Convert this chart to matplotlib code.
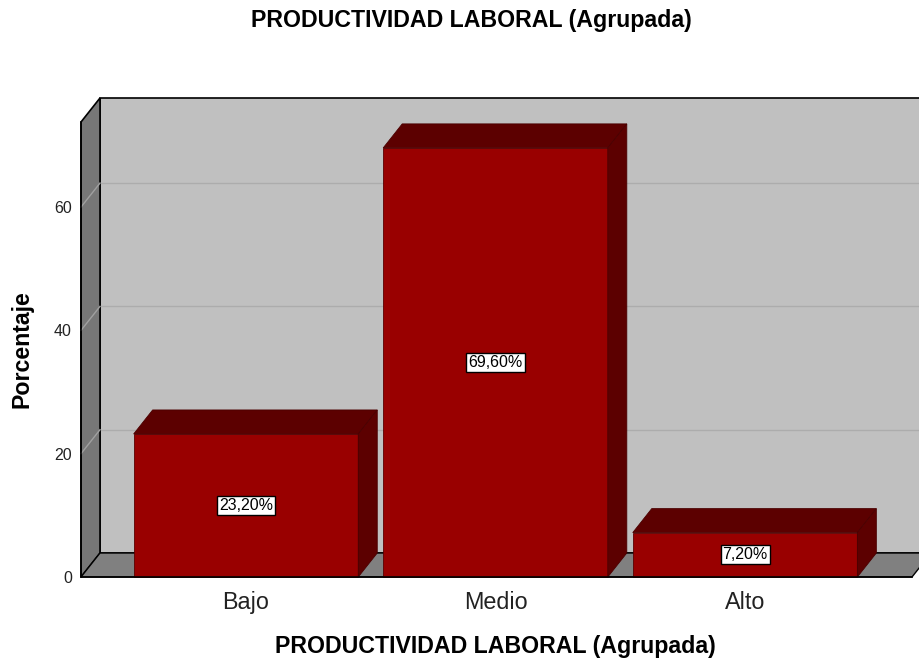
# Gráfico de barras 3D (estilo SPSS): productividad laboral agrupada
import matplotlib.pyplot as plt
from matplotlib.patches import Polygon

plt.rcParams['font.family'] = ['Liberation Sans', 'DejaVu Sans']

categorias = ['Bajo', 'Medio', 'Alto']
porcentajes = [23.2, 69.6, 7.2]
ticks_y = [0, 20, 40, 60]
titulo = 'PRODUCTIVIDAD LABORAL (Agrupada)'

fig = plt.figure(figsize=(9.2, 6.62), dpi=100)
W, H = 920, 662
ax = fig.add_axes([81 / W, 85 / H, 831 / W, 455 / H])

x0, x1 = -0.661, 2.669
y0, y1 = 0, 73.8
ax.set_xlim(x0, x1)
ax.set_ylim(y0, y1)

# profundidad del efecto 3D, en unidades de datos (19 px a la derecha, 24 px arriba)
px_x = 831 / (x1 - x0)
px_y = 455 / (y1 - y0)
ddx = 19 / px_x
ddy = 24 / px_y

def poly(pts, color, z, ec='none', lw=0):
    p = Polygon(pts, closed=True, facecolor=color, edgecolor=ec, linewidth=lw,
                zorder=z, clip_on=False)
    ax.add_patch(p)

# paredes y suelo
poly([(x0 + ddx, ddy), (x1 + ddx, ddy), (x1 + ddx, y1 + ddy), (x0 + ddx, y1 + ddy)],
     '#c0c0c0', 0.5, ec='black', lw=1.2)
poly([(x0, 0), (x0 + ddx, ddy), (x0 + ddx, y1 + ddy), (x0, y1)],
     '#777777', 0.6, ec='black', lw=1.2)
poly([(x0, 0), (x1, 0), (x1 + ddx, ddy), (x0 + ddx, ddy)],
     '#808080', 0.6, ec='black', lw=1.0)

# líneas de cuadrícula
for v in ticks_y[1:]:
    ax.plot([x0 + ddx, x1 + ddx], [v + ddy, v + ddy], color='#acacac', lw=1,
            zorder=0.55, clip_on=False)
    ax.plot([x0, x0 + ddx], [v, v + ddy], color='#a0a0a0', lw=1,
            zorder=0.65, clip_on=False)

# barras
ancho = 0.9
for i, v in enumerate(porcentajes):
    a, b = i - ancho / 2, i + ancho / 2
    poly([(a, 0), (b, 0), (b, v), (a, v)], '#990000', 2, ec='#5a0000', lw=0.6)
    poly([(a, v), (b, v), (b + ddx, v + ddy), (a + ddx, v + ddy)], '#5c0000', 2,
         ec='#4a0000', lw=0.6)
    poly([(b, 0), (b + ddx, ddy), (b + ddx, v + ddy), (b, v)], '#5c0000', 2,
         ec='#4a0000', lw=0.6)
    etiqueta = f'{v:.2f}'.replace('.', ',') + '%'
    ax.text(i, v / 2, etiqueta, ha='center', va='center', fontsize=11.5, zorder=5,
            bbox=dict(boxstyle='square,pad=0.12', facecolor='white',
                      edgecolor='black', linewidth=1))

ax.set_facecolor('none')
for s in ['top', 'right']:
    ax.spines[s].set_visible(False)
for s in ['left', 'bottom']:
    ax.spines[s].set_color('black')
    ax.spines[s].set_linewidth(1.2)
    ax.spines[s].set_zorder(3)

ax.set_xticks(range(len(categorias)))
ax.set_xticklabels(categorias, fontsize=16.8, color='#222222')
ax.set_yticks(ticks_y)
ax.set_yticklabels([str(t) for t in ticks_y], fontsize=11.5, color='#222222')
ax.tick_params(axis='x', length=0, pad=10)
ax.tick_params(axis='y', length=0, pad=6.5)

fig.text(471.5 / W, 1 - 20 / H, titulo, ha='center', va='center',
         fontsize=16.7, fontweight='bold')
fig.text(495 / W, 1 - 647 / H, titulo, ha='center', va='center',
         fontsize=16.7, fontweight='bold')
fig.text(22 / W, 1 - 349 / H, 'Porcentaje', ha='center', va='center',
         rotation=90, fontsize=16.7, fontweight='bold')

fig.savefig('out.png', dpi=100)
